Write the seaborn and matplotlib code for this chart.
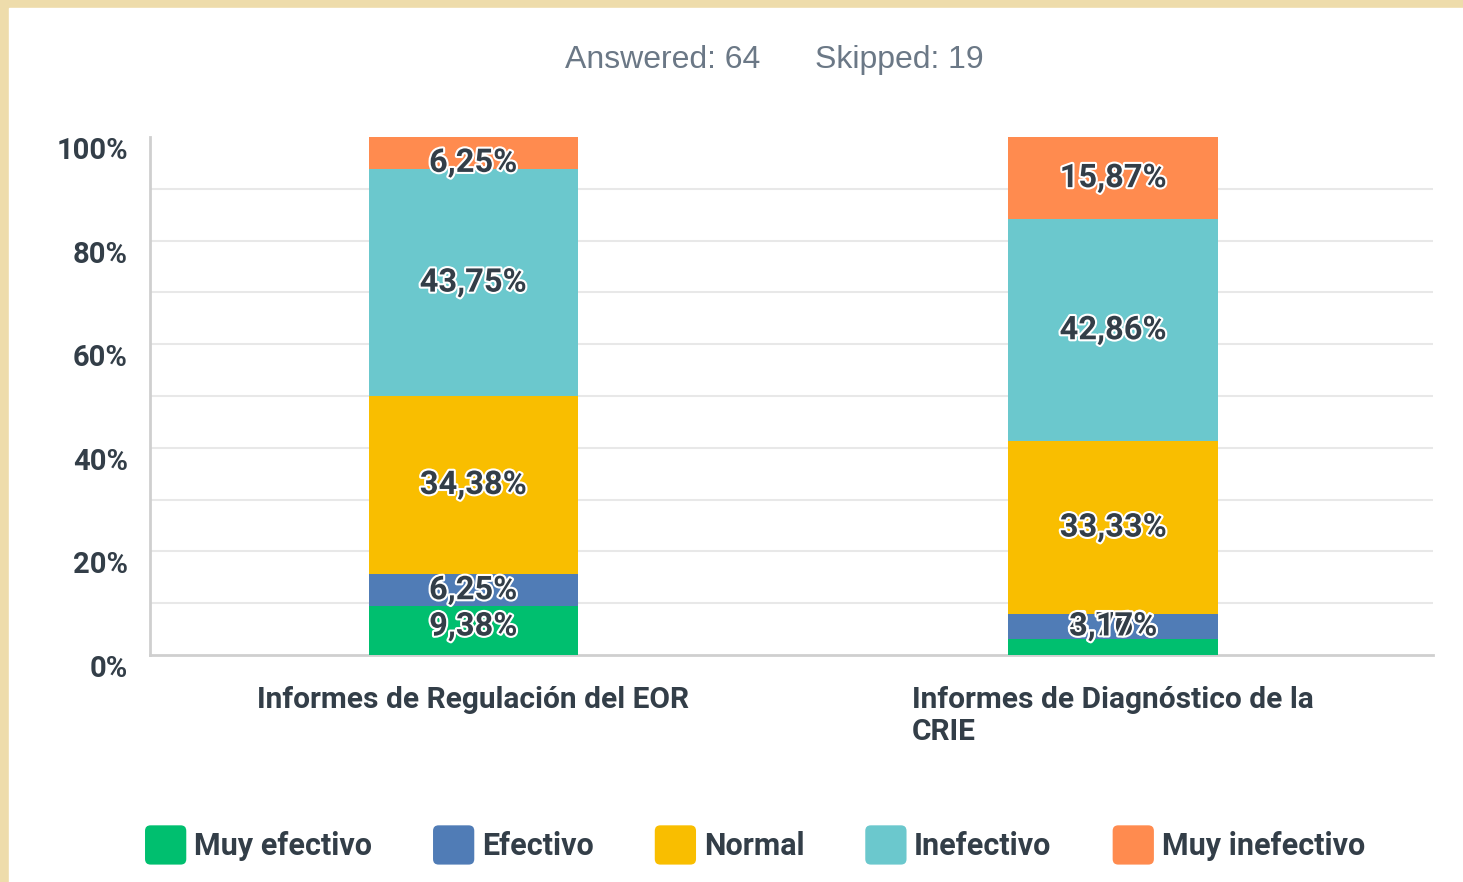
import pandas as pd
import numpy as np
import seaborn as sns
import matplotlib.pyplot as plt
import matplotlib.patheffects as pe
from matplotlib.patches import Patch, Rectangle, FancyBboxPatch
from matplotlib.legend_handler import HandlerPatch
from matplotlib.transforms import ScaledTranslation

# datos
CATEGORIAS = ["Informes de Regulación del EOR",
              "Informes de Diagnóstico de la\nCRIE"]
NIVELES = ["Muy efectivo", "Efectivo", "Normal", "Inefectivo", "Muy inefectivo"]
MUY_EFECTIVO = [9.38, 3.17]
EFECTIVO = [6.25, 4.76]
NORMAL = [34.38, 33.33]
INEFECTIVO = [43.75, 42.86]
MUY_INEFECTIVO = [6.25, 15.87]
Y_TICKS = [0, 20, 40, 60, 80, 100]
RESPONDIDAS = 64
OMITIDAS = 19

COLORES = ["#00bf6f", "#507cb6", "#f9be00", "#6bc8cd", "#ff8b4f"]
TEXTO = "#333e48"

sns.set_theme(style="white")
plt.rcParams['font.family'] = ['Roboto', 'DejaVu Sans']

valores = [MUY_EFECTIVO, EFECTIVO, NORMAL, INEFECTIVO, MUY_INEFECTIVO]
filas = []
for nivel, vals in zip(NIVELES, valores):
    for cat, v in zip(CATEGORIAS, vals):
        filas.append({'cat': cat, 'nivel': nivel, 'valor': v})
df = pd.DataFrame(filas)
df['nivel'] = pd.Categorical(df['nivel'], NIVELES, ordered=True)
df = df.sort_values(['cat', 'nivel'])
df['cum'] = df.groupby('cat')['valor'].cumsum()
df['base'] = df['cum'] - df['valor']

fig = plt.figure(figsize=(14.63, 8.82), dpi=100, facecolor='#eedcab')
fig.patches.append(Rectangle((9 / 1463, 0), 1, 1 - 8 / 882,
                             transform=fig.transFigure, color='white', zorder=-5))
ax = fig.add_axes([150 / 1463, 1 - 655 / 882, 1283 / 1463, 518 / 882])
ax.set_facecolor('none')

# barras apiladas: se dibuja el acumulado de arriba hacia abajo
for nivel, color in reversed(list(zip(NIVELES, COLORES))):
    sub = df[df['nivel'] == nivel]
    sns.barplot(data=sub, x='cat', y='cum', order=CATEGORIAS, color=color,
                saturation=1, width=0.327, linewidth=0, ax=ax, zorder=3)

# etiquetas de porcentaje (las de abajo quedan encima si se pisan)
pos = {c: i for i, c in enumerate(CATEGORIAS)}
for _, r in df.iterrows():
    y = min(max(r['base'] + r['valor'] / 2, 5.5), 95)
    txt = f"{r['valor']:.2f}%".replace('.', ',')
    ax.text(pos[r['cat']], y, txt, ha='center', va='center',
            fontsize=23.5, fontweight='bold', color=TEXTO,
            zorder=10 - NIVELES.index(r['nivel']),
            path_effects=[pe.withStroke(linewidth=3, foreground='white')])

ax.set_xlim(-0.505, 1.5)
ax.set_ylim(0, 100)
ax.set_xlabel('')
ax.set_ylabel('')
ax.set_yticks(Y_TICKS)
ax.set_yticklabels([f"{t}%" for t in Y_TICKS], fontsize=21, fontweight='bold',
                   color=TEXTO)
ax.set_yticks(range(10, 100, 10), minor=True)
ax.yaxis.grid(True, which='both', color='#e8e8e8', linewidth=1.5, zorder=0)
ax.get_ygridlines()[-1].set_visible(False)
ax.get_ygridlines()[0].set_visible(False)
ax.set_axisbelow(True)
ax.tick_params(axis='y', which='both', length=0, pad=16)
ax.tick_params(axis='x', length=0, pad=22)
ax.set_xticks(range(len(CATEGORIAS)))
ax.set_xticklabels(CATEGORIAS, fontsize=21.5, fontweight='bold', color=TEXTO,
                   multialignment='left', va='top')
off = ScaledTranslation(0, -0.11, fig.dpi_scale_trans)
for lab in ax.get_yticklabels():
    lab.set_transform(lab.get_transform() + off)

for s in ['top', 'right']:
    ax.spines[s].set_visible(False)
for s in ['left', 'bottom']:
    ax.spines[s].set_color('#cfcfcf')
    ax.spines[s].set_linewidth(2)

fig.text(663 / 1463, 1 - 60 / 882, f"Answered: {RESPONDIDAS}", ha='center',
         va='center', fontsize=23, color='#6b7886', family='Liberation Sans')
fig.text(899 / 1463, 1 - 60 / 882, f"Skipped: {OMITIDAS}", ha='center',
         va='center', fontsize=23, color='#6b7886', family='Liberation Sans')


def caja_redonda(legend, orig_handle, xdescent, ydescent, width, height, fontsize):
    return FancyBboxPatch((-xdescent, -ydescent), width, height,
                          boxstyle='round,pad=0,rounding_size=4')


handles = [Patch(facecolor=c, edgecolor='none') for c in COLORES]
leg = fig.legend(handles, NIVELES, loc='center', bbox_to_anchor=(0.516, 0.042),
                 ncol=5, frameon=False, handlelength=1.35, handleheight=1.6,
                 handletextpad=0.25, columnspacing=2.0,
                 prop={'size': 22, 'weight': 'bold'},
                 handler_map={Patch: HandlerPatch(patch_func=caja_redonda)})
for t in leg.get_texts():
    t.set_color(TEXTO)

fig.savefig('out.png', dpi=100, facecolor=fig.get_facecolor())
